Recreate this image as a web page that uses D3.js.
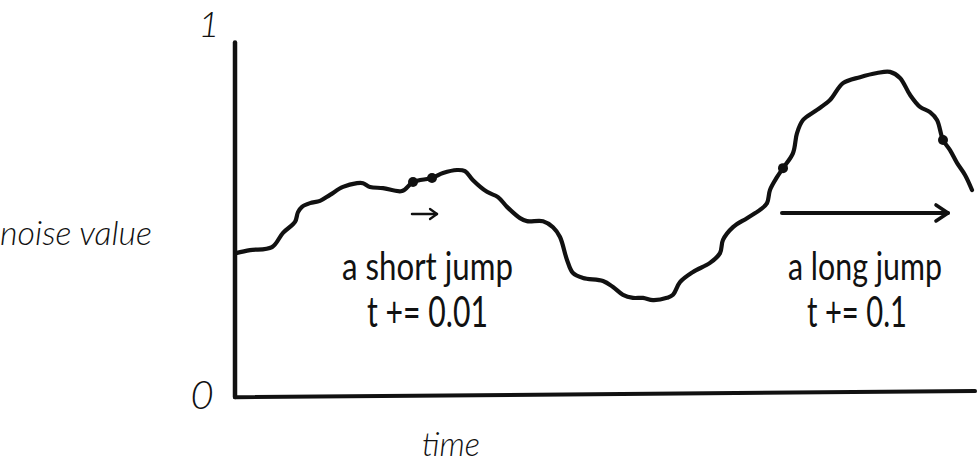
<!DOCTYPE html>
<html>
<head>
<meta charset="utf-8">
<script src="https://cdn.jsdelivr.net/npm/d3@7"></script>
<style>
  html, body { margin: 0; padding: 0; background: #fff; }
  svg { display: block; }
  text { fill: #111; font-family: Lato, "Open Sans", sans-serif; }
</style>
</head>
<body>
<svg id="chart" width="979" height="465"></svg>
<script>
// ---- data ----
const times = [1,15,37,48,60,63,67,75,85,95,108,122,128,135,148,167,178,197,208,222,230,238,252,263,272,285,292,308,318,325,332,338,348,368,378,388,398,408,418,432,438,445,458,475,485,488,498,512,525,532,535,542,548,558,562,568,582,595,608,625,642,655,665,675,685,695,702,708,715,722,730,737];
const noiseValues = [0.380,0.388,0.396,0.434,0.463,0.489,0.503,0.513,0.519,0.535,0.556,0.566,0.566,0.556,0.553,0.545,0.569,0.580,0.593,0.601,0.598,0.574,0.543,0.529,0.503,0.473,0.465,0.465,0.449,0.423,0.362,0.327,0.314,0.306,0.290,0.269,0.261,0.261,0.255,0.261,0.269,0.303,0.330,0.354,0.380,0.415,0.449,0.473,0.495,0.513,0.548,0.582,0.606,0.646,0.699,0.734,0.761,0.787,0.832,0.848,0.859,0.862,0.846,0.801,0.769,0.755,0.734,0.681,0.654,0.620,0.588,0.548];
const dotTimes = [178, 197, 548, 708];
const dotValues = [0.569, 0.580, 0.606, 0.681];
const arrowStarts = [177, 547];
const arrowEnds = [202, 713];
const arrowValues = [0.484, 0.487];
const jumpLabels = ["a short jump", "a long jump"];
const stepLabels = ["t += 0.01", "t += 0.1"];
const tickValues = [0, 1];
const tickLabels = ["0", "1"];
const yTitle = "noise value";
const xTitle = "time";

// ---- scales ----
const svg = d3.select("#chart");
const x = d3.scaleLinear().domain([0, 740]).range([235, 975]);
const y = d3.scaleLinear().domain([0, 1]).range([396, 20]);
const ink = "#111";

// place a text at (px, py) and squeeze it horizontally to a given width
function fitText(str, px, py, width, size, opts = {}) {
  const t = svg.append("text")
    .attr("x", 0).attr("y", 0)
    .attr("font-size", size)
    .attr("font-weight", opts.weight || 400)
    .attr("font-style", opts.style || "normal")
    .text(str);
  const natural = t.node().getComputedTextLength();
  const sx = width / natural;
  t.attr("transform", `translate(${px},${py}) scale(${sx},1)`);
  return t;
}

// axes
svg.append("line")
  .attr("x1", x(0)).attr("y1", y(0) + 1)
  .attr("x2", x(0)).attr("y2", y(0.94))
  .attr("stroke", ink).attr("stroke-width", 4.5).attr("stroke-linecap", "round");
svg.append("line")
  .attr("x1", x(0)).attr("y1", y(-0.003))
  .attr("x2", x(740)).attr("y2", y(0.013))
  .attr("stroke", ink).attr("stroke-width", 4).attr("stroke-linecap", "round");

// tick labels
svg.append("text").attr("x", 209).attr("y", y(1) + 17)
  .attr("text-anchor", "middle").attr("font-size", 36).attr("font-style", "italic")
  .attr("font-weight", 300).text(tickLabels[1]);
svg.append("text").attr("x", 202).attr("y", y(0) + 13)
  .attr("text-anchor", "middle").attr("font-size", 40).attr("font-style", "italic")
  .attr("font-weight", 300).text(tickLabels[0]);

// axis titles
fitText(yTitle, 0, 245, 152, 34, { style: "italic", weight: 300 });
fitText(xTitle, 422, 456, 58, 33, { style: "italic", weight: 300 });

// curve
const data = times.map((t, i) => ({ t, v: noiseValues[i] }));
const line = d3.line().x(d => x(d.t)).y(d => y(d.v)).curve(d3.curveCatmullRom.alpha(0.5));
svg.append("path").datum(data)
  .attr("d", line)
  .attr("fill", "none").attr("stroke", ink).attr("stroke-width", 4.2)
  .attr("stroke-linejoin", "round").attr("stroke-linecap", "round");

// dots
svg.selectAll("circle.dot").data(dotTimes).join("circle")
  .attr("class", "dot")
  .attr("cx", d => x(d)).attr("cy", (d, i) => y(dotValues[i]))
  .attr("r", 5).attr("fill", ink);

// arrows
const heads = [{ back: 7, half: 5, w: 2.5 }, { back: 12, half: 8, w: 4 }];
arrowStarts.forEach((s, i) => {
  const x1 = x(s), x2 = x(arrowEnds[i]), yy = y(arrowValues[i]);
  const h = heads[i];
  svg.append("line").attr("x1", x1).attr("y1", yy).attr("x2", x2).attr("y2", yy)
    .attr("stroke", ink).attr("stroke-width", h.w).attr("stroke-linecap", "round");
  svg.append("path")
    .attr("d", `M${x2 - h.back},${yy - h.half}L${x2},${yy}L${x2 - h.back},${yy + h.half}`)
    .attr("fill", "none").attr("stroke", ink).attr("stroke-width", h.w * 0.9)
    .attr("stroke-linecap", "round").attr("stroke-linejoin", "round");
});

// annotation labels
const labelPos = [
  { x1: 342, w1: 171, x2: 367, w2: 121 },
  { x1: 788, w1: 154, x2: 807, w2: 100 }
];
jumpLabels.forEach((lab, i) => {
  const p = labelPos[i];
  fitText(lab, p.x1, 280, p.w1, 38);
  fitText(stepLabels[i], p.x2, 327, p.w2, 42);
});
</script>
</body>
</html>
